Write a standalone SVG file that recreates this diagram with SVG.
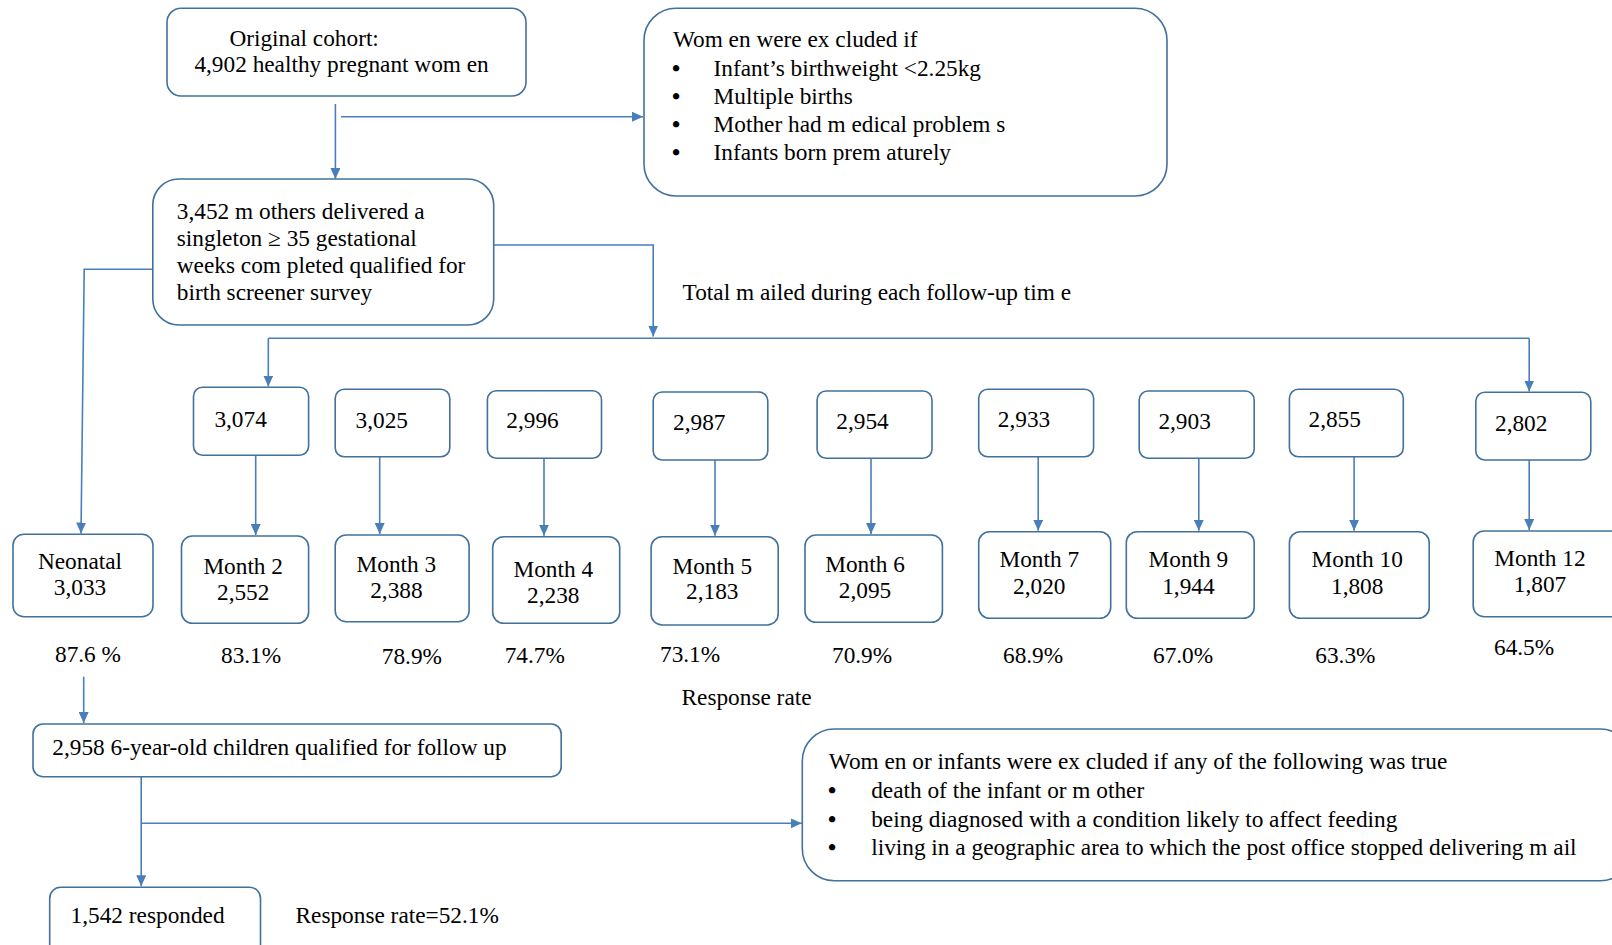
<svg xmlns="http://www.w3.org/2000/svg" width="1612" height="945" viewBox="0 0 1612 945">
<defs>
<marker id="ah" markerUnits="userSpaceOnUse" markerWidth="12" markerHeight="10" refX="11" refY="5" orient="auto">
<path d="M0,0 L11,5 L0,10 z" fill="#4A7EBB"/>
</marker>
</defs>
<style>
.box{fill:#fff;stroke:#41719C;stroke-width:1.6}
.ln{fill:none;stroke:#4A7EBB;stroke-width:1.6}
.ar{fill:none;stroke:#4A7EBB;stroke-width:1.6;marker-end:url(#ah)}
text{font-family:"Liberation Serif","Times New Roman",serif;font-size:23.3px;fill:#000}
.c{text-anchor:middle}
.b{font-weight:bold}
</style>
<rect width="1612" height="945" fill="#fff"/>
<g id="connectors">
<line class="ar" x1="335.4" y1="104" x2="335.4" y2="179"/>
<line class="ar" x1="341" y1="116.7" x2="643" y2="116.7"/>
<polyline class="ar" points="493.7,245 653.2,245 653.2,336.5"/>
<line class="ln" x1="268.3" y1="338.3" x2="1529.2" y2="338.3"/>
<line class="ar" x1="268.3" y1="338.3" x2="268.3" y2="386.5"/>
<line class="ar" x1="1529.2" y1="338.3" x2="1529.2" y2="391.5"/>
<polyline class="ar" points="152.8,269.3 84.2,269.3 81,533.5"/>
<line class="ar" x1="255.7" y1="455.3" x2="255.7" y2="535"/>
<line class="ar" x1="379.7" y1="456.7" x2="379.7" y2="534"/>
<line class="ar" x1="544" y1="458.3" x2="544" y2="535.7"/>
<line class="ar" x1="715" y1="460" x2="715" y2="535.7"/>
<line class="ar" x1="871" y1="458.3" x2="871" y2="534"/>
<line class="ar" x1="1038.2" y1="456.7" x2="1038.2" y2="530.7"/>
<line class="ar" x1="1198.8" y1="458.3" x2="1198.8" y2="530.7"/>
<line class="ar" x1="1354.1" y1="456.7" x2="1354.1" y2="530.7"/>
<line class="ar" x1="1529.2" y1="460" x2="1529.2" y2="530"/>
<line class="ar" x1="83.7" y1="676.7" x2="83.7" y2="723"/>
<line class="ar" x1="141.2" y1="776.7" x2="141.2" y2="886.3"/>
<line class="ar" x1="141.2" y1="823.3" x2="801.8" y2="823.3"/>
</g>
<g id="n-original">
<rect class="box" x="167" y="8.3" width="359" height="87.7" rx="14"/>
<text x="229.4" y="45.7">Original  cohort:</text>
<text x="194.4" y="71.7">4,902 healthy pregnant wom en</text>
</g>
<g id="n-excl1">
<rect class="box" x="644" y="8.3" width="523" height="187.7" rx="32"/>
<text x="672.9" y="46.7">Wom en were ex cluded if</text>
<text class="b" x="672" y="76">•</text><text x="713.6" y="76">Infant’s birthweight &lt;2.25kg</text>
<text class="b" x="672" y="104.3">•</text><text x="713.6" y="104.3">Multiple births</text>
<text class="b" x="672" y="132.3">•</text><text x="713.6" y="132.3">Mother had m edical problem s</text>
<text class="b" x="672" y="160">•</text><text x="713.6" y="160">Infants born prem aturely</text>
</g>
<g id="n-delivered">
<rect class="box" x="152.8" y="179" width="340.9" height="146" rx="26"/>
<text x="176.8" y="219">3,452 m others delivered a</text>
<text x="176.8" y="245.7">singleton ≥ 35 gestational</text>
<text x="176.8" y="272.7">weeks com pleted qualified for</text>
<text x="176.8" y="300">birth screener survey</text>
</g>
<g id="label-mailed">
<text x="682.6" y="300">Total m ailed during each follow-up tim e</text>
</g>
<g id="n-m1"><rect class="box" x="193.5" y="387.3" width="115.1" height="68" rx="9"/><text x="214.4" y="426.7">3,074</text></g>
<g id="n-m2"><rect class="box" x="335.2" y="389.3" width="114.6" height="67.4" rx="9"/><text x="355.6" y="428.3">3,025</text></g>
<g id="n-m3"><rect class="box" x="487.4" y="390.7" width="114.1" height="67.6" rx="9"/><text x="506.3" y="428.3">2,996</text></g>
<g id="n-m4"><rect class="box" x="653.2" y="392" width="114.6" height="68" rx="9"/><text x="673.1" y="430">2,987</text></g>
<g id="n-m5"><rect class="box" x="817.1" y="391" width="114.9" height="67.3" rx="9"/><text x="836.3" y="429">2,954</text></g>
<g id="n-m6"><rect class="box" x="978.7" y="389.3" width="114.9" height="67.4" rx="9"/><text x="997.8" y="427.3">2,933</text></g>
<g id="n-m7"><rect class="box" x="1139.2" y="391" width="115" height="67.3" rx="9"/><text x="1158.4" y="429">2,903</text></g>
<g id="n-m8"><rect class="box" x="1289.4" y="389.3" width="113.9" height="67.4" rx="9"/><text x="1308.5" y="427.3">2,855</text></g>
<g id="n-m9"><rect class="box" x="1475.8" y="392.3" width="115" height="67.7" rx="9"/><text x="1495" y="430.7">2,802</text></g>
<g id="n-neonatal"><rect class="box" x="13" y="534.3" width="140" height="82.4" rx="11"/><text class="c" x="80" y="569">Neonatal</text><text class="c" x="80" y="595">3,033</text></g>
<g id="n-month2"><rect class="box" x="181.5" y="536" width="127.1" height="87.3" rx="11"/><text class="c" x="243.2" y="574.3">Month 2</text><text class="c" x="243.2" y="600">2,552</text></g>
<g id="n-month3"><rect class="box" x="335.2" y="535" width="133.9" height="86.7" rx="11"/><text class="c" x="396.4" y="572.3">Month 3</text><text class="c" x="396.4" y="598.3">2,388</text></g>
<g id="n-month4"><rect class="box" x="492.7" y="536.7" width="127" height="86.6" rx="11"/><text class="c" x="553.3" y="576.7">Month 4</text><text class="c" x="553.3" y="603.3">2,238</text></g>
<g id="n-month5"><rect class="box" x="651.1" y="536.7" width="127.1" height="88.3" rx="11"/><text class="c" x="712.3" y="574.3">Month 5</text><text class="c" x="712.3" y="599.3">2,183</text></g>
<g id="n-month6"><rect class="box" x="805" y="535" width="137.4" height="87.3" rx="11"/><text class="c" x="865" y="571.7">Month 6</text><text class="c" x="865" y="597.7">2,095</text></g>
<g id="n-month7"><rect class="box" x="978.7" y="531.7" width="132" height="86.6" rx="11"/><text class="c" x="1039.3" y="567.3">Month 7</text><text class="c" x="1039.3" y="594.3">2,020</text></g>
<g id="n-month9"><rect class="box" x="1126.3" y="531.7" width="127.9" height="86.6" rx="11"/><text class="c" x="1188.4" y="567.3">Month 9</text><text class="c" x="1188.4" y="594.3">1,944</text></g>
<g id="n-month10"><rect class="box" x="1289.4" y="531.7" width="139.8" height="86.6" rx="11"/><text class="c" x="1357.2" y="567.3">Month 10</text><text class="c" x="1357.2" y="594.3">1,808</text></g>
<g id="n-month12"><rect class="box" x="1473.2" y="531" width="160" height="85.7" rx="11"/><text class="c" x="1540" y="566">Month 12</text><text class="c" x="1540" y="591.7">1,807</text></g>
<g id="rates">
<text x="55" y="661.7">87.6 %</text>
<text x="221" y="662.7">83.1%</text>
<text x="381.8" y="664.3">78.9%</text>
<text x="504.7" y="663.3">74.7%</text>
<text x="660" y="661.7">73.1%</text>
<text x="832" y="663.3">70.9%</text>
<text x="1003" y="663.3">68.9%</text>
<text x="1153" y="663.3">67.0%</text>
<text x="1315.3" y="663.3">63.3%</text>
<text x="1494" y="655">64.5%</text>
<text x="681.5" y="705">Response rate</text>
</g>
<g id="n-sixyear">
<rect class="box" x="33" y="724" width="528.2" height="52.7" rx="10"/>
<text x="52.3" y="755">2,958 6-year-old children qualified for follow up</text>
</g>
<g id="n-excl2">
<rect class="box" x="802.3" y="729" width="830" height="151.7" rx="32"/>
<text x="828.8" y="769.3">Wom en or infants were ex cluded if any of the following was true</text>
<text class="b" x="828" y="797.7">•</text><text x="871.2" y="797.7">death of the infant or m other</text>
<text class="b" x="828" y="826.7">•</text><text x="871.2" y="826.7">being diagnosed with a condition likely to affect feeding</text>
<text class="b" x="828" y="855">•</text><text x="871.2" y="855">living in a geographic area to which the post office stopped delivering m ail</text>
</g>
<g id="n-responded">
<rect class="box" x="49.7" y="887.3" width="210.8" height="80" rx="11"/>
<text x="70.6" y="923.3">1,542 responded</text>
</g>
<g id="label-rate52">
<text x="295.5" y="922.7">Response rate=52.1%</text>
</g>
</svg>
